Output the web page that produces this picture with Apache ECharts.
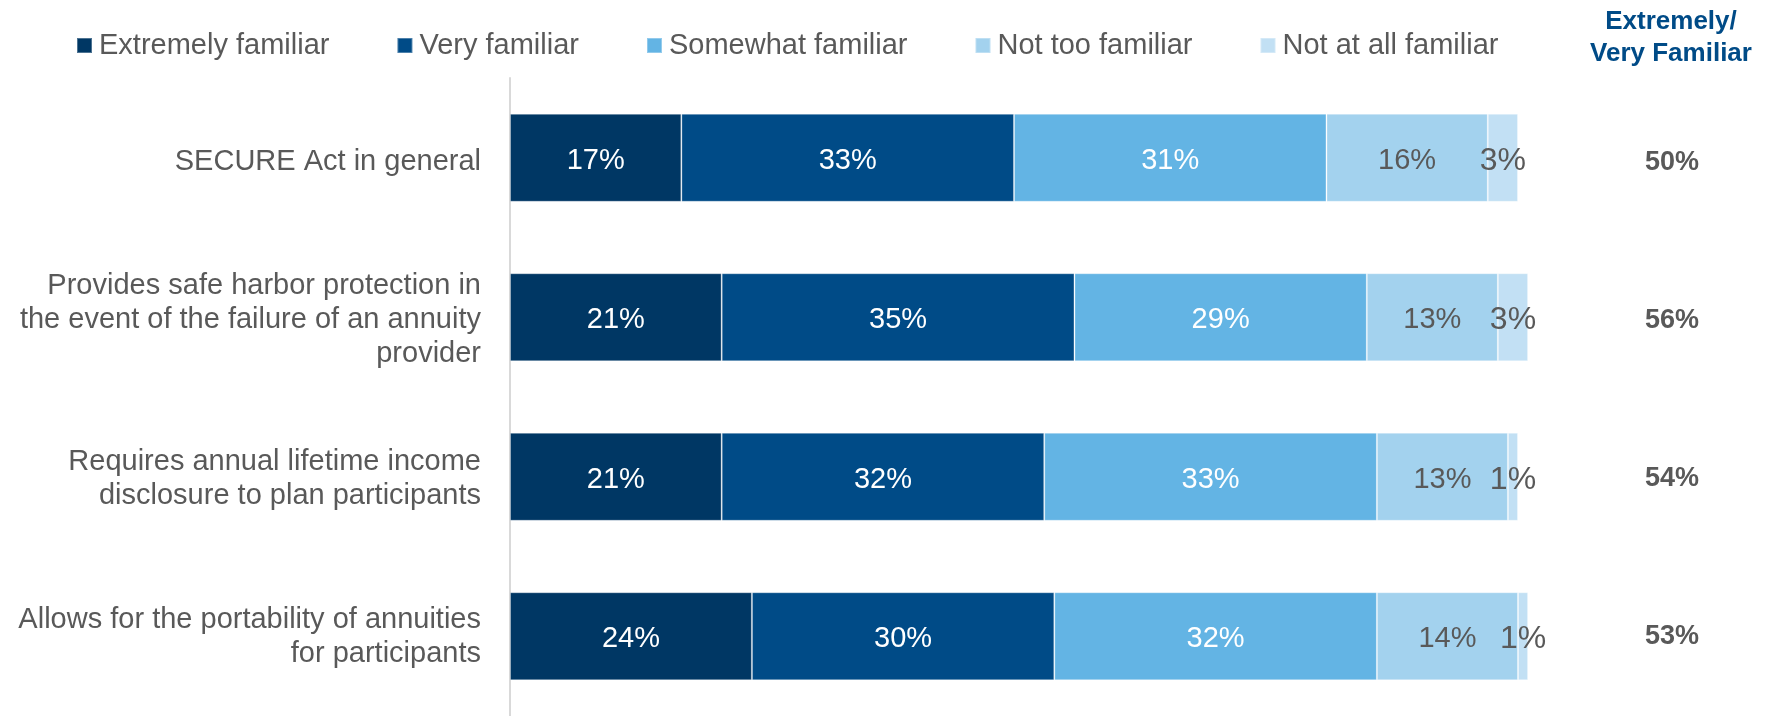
<!DOCTYPE html>
<html>
<head>
<meta charset="utf-8">
<title>Familiarity with SECURE Act provisions</title>
<script src="https://cdn.jsdelivr.net/npm/echarts@6/dist/echarts.min.js"></script>
<style>
  html, body { margin: 0; padding: 0; background: #ffffff; }
  #chart { width: 1774px; height: 716px; }
</style>
</head>
<body>
<div id="chart"></div>
<script>
// Survey items (top to bottom)
const categories = [
  'SECURE Act in general',
  'Provides safe harbor protection in\nthe event of the failure of an annuity\nprovider',
  'Requires annual lifetime income\ndisclosure to plan participants',
  'Allows for the portability of annuities\nfor participants'
];

// Response levels, in stacking order
const seriesNames = [
  'Extremely familiar',
  'Very familiar',
  'Somewhat familiar',
  'Not too familiar',
  'Not at all familiar'
];

// Percent of respondents per level, one value per item
const extremelyFamiliar = [17, 21, 21, 24];
const veryFamiliar      = [33, 35, 32, 30];
const somewhatFamiliar  = [31, 29, 33, 32];
const notTooFamiliar    = [16, 13, 13, 14];
const notAtAllFamiliar  = [3, 3, 1, 1];

// Reported "Extremely/Very Familiar" share per item
const extremelyOrVery = [50, 56, 54, 53];

const seriesValues = [extremelyFamiliar, veryFamiliar, somewhatFamiliar, notTooFamiliar, notAtAllFamiliar];
const colors = ['#003764', '#004b87', '#63b4e4', '#a3d2ee', '#c2e0f4'];
const labelColors = ['#ffffff', '#ffffff', '#ffffff', '#595959', '#595959'];
const labelSizes = [29, 29, 29, 29, 32];

const FONT = 'Arial, "Liberation Sans", Helvetica, sans-serif';
const chart = echarts.init(document.getElementById('chart'), null, { renderer: 'canvas' });

const series = seriesNames.map((name, i) => ({
  name: name,
  type: 'bar',
  stack: 'total',
  barWidth: 88,
  clip: false,
  xAxisIndex: 0,
  yAxisIndex: 0,
  data: seriesValues[i],
  itemStyle: {
    color: colors[i],
    borderColor: 'rgba(255,255,255,0.3)',
    borderWidth: 1
  },
  label: {
    show: true,
    position: 'inside',
    formatter: '{c}%',
    color: labelColors[i],
    fontSize: labelSizes[i],
    fontFamily: FONT,
    offset: [0, 3]
  },
  emphasis: { disabled: true }
}));

// Plot area for the bars, and a companion area (a few px lower) that carries the row text
const plotTop = 78;
const plotHeight = 644;
const textShift = 5;

chart.setOption({
  animation: false,
  backgroundColor: '#ffffff',
  textStyle: { fontFamily: FONT },
  legend: {
    data: seriesNames,
    left: 76,
    top: 31,
    padding: 0,
    itemWidth: 15,
    itemHeight: 15,
    itemGap: 67,
    icon: 'rect',
    selectedMode: false,
    textStyle: { fontSize: 29, color: '#595959', fontFamily: FONT, padding: [3, 0, 0, 2] }
  },
  graphic: [{
    type: 'text',
    x: 1671,
    y: 6,
    silent: true,
    style: {
      text: 'Extremely/\nVery Familiar',
      align: 'center',
      verticalAlign: 'top',
      fontSize: 26,
      fontWeight: 'bold',
      lineHeight: 32,
      fill: '#004b87',
      fontFamily: FONT
    }
  }],
  grid: [
    { left: 510, right: 256, top: plotTop, height: plotHeight, containLabel: false },
    { left: 510, right: 256, top: plotTop + textShift, height: plotHeight, containLabel: false }
  ],
  xAxis: [
    { type: 'value', min: 0, max: 100, show: false, gridIndex: 0 },
    { type: 'value', min: 0, max: 100, show: false, gridIndex: 1 }
  ],
  yAxis: [{
    // bar axis: draws the vertical baseline only
    type: 'category',
    gridIndex: 0,
    data: categories,
    inverse: true,
    axisLine: { show: true, lineStyle: { color: '#d9d9d9', width: 2 } },
    axisTick: { show: false },
    axisLabel: { show: false },
    splitLine: { show: false }
  }, {
    // item names on the left
    type: 'category',
    gridIndex: 1,
    data: categories,
    inverse: true,
    axisLine: { show: false },
    axisTick: { show: false },
    splitLine: { show: false },
    axisLabel: {
      fontSize: 29,
      color: '#595959',
      lineHeight: 34,
      margin: 29,
      align: 'right',
      fontFamily: FONT
    }
  }, {
    // Extremely/Very Familiar totals on the right
    type: 'category',
    gridIndex: 1,
    data: extremelyOrVery,
    inverse: true,
    position: 'right',
    axisLine: { show: false },
    axisTick: { show: false },
    splitLine: { show: false },
    axisLabel: {
      formatter: v => v + '%',
      fontSize: 27,
      fontWeight: 'bold',
      color: '#595959',
      align: 'center',
      margin: 154,
      fontFamily: FONT
    }
  }],
  series: series
});
</script>
</body>
</html>
